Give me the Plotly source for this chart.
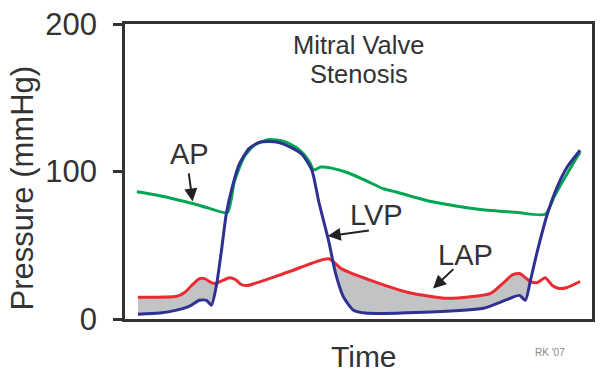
import numpy as np
import plotly.graph_objects as go

# ---- data (time in ms, pressure in mmHg) ----
lvp_t = [32.5, 87.5, 130, 162.5, 187.5, 205, 217.5, 230, 242.5, 255, 270, 287.5, 312.5, 337.5, 362.5,
         387.5, 417.5, 445, 470, 487.5, 512.5, 530, 550, 575, 605, 770, 905, 945, 975, 992.5, 1007.5,
         1020, 1037.5, 1062.5, 1087.5, 1112.5, 1145]
lvp_p = [3.3, 4, 6, 8.7, 12.7, 12.7, 9.4, 22.7, 46, 71.6, 89.6, 105, 115.7, 119.7, 120.4,
         119.7, 116.4, 111.7, 101, 79.6, 52.8, 30.8, 14.7, 6, 4, 4.7, 7.4, 11.4, 14.7, 16, 12.7,
         26, 46, 71, 89.6, 103, 114.4]

ap_t = [30, 87.5, 170, 212.5, 257.5, 275, 300, 325, 362.5, 400, 430, 450, 465, 475, 492.5, 520,
        562.5, 612.5, 650, 680, 770, 895, 987.5, 1057.5, 1080, 1105, 1125, 1145]
ap_p = [86.3, 83.6, 78.3, 75, 72.2, 93, 110, 117.7, 121.7, 120.4, 116.4, 111.7, 106, 101, 103, 102.3,
        99, 93, 88.3, 86.3, 79.6, 74.2, 72.2, 71, 83, 95, 104.3, 113]

lap_t = [32.5, 130, 150, 167.5, 187.5, 200, 217.5, 227.5, 245, 262.5, 277.5, 292.5, 307.5, 412.5,
         512.5, 545, 620, 712.5, 812.5, 920, 950, 975, 992.5, 1007.5, 1020, 1037.5, 1057.5, 1075,
         1092.5, 1112.5, 1145]
lap_p = [14.7, 15.4, 18, 22.7, 27.4, 27.4, 24.7, 24, 26, 28, 26.8, 23.4, 22.7, 32,
         40.8, 34, 26, 18, 14, 17.4, 24, 30, 30.8, 28, 25.4, 24.7, 28, 22.7,
         20.7, 21.4, 25.4]

y_ticks = [0, 100, 200]

GREEN = "#00A651"
BLUE = "#2E3192"
RED = "#EB2A32"
GRAY = "#C2C3C5"
TXT = "#333333"
FONT = "Liberation Sans, Arial, sans-serif"

fig = go.Figure()

# gray fill where LAP > LVP
grid = np.linspace(min(lap_t), max(lap_t), 2000)
red_i = np.interp(grid, lap_t, lap_p)
blue_i = np.interp(grid, lvp_t, lvp_p)
mask = red_i > blue_i
idx = np.flatnonzero(mask)
segments = np.split(idx, np.flatnonzero(np.diff(idx) > 1) + 1)
for seg in segments:
    if len(seg) < 3:
        continue
    xs = grid[seg]
    fig.add_trace(go.Scatter(
        x=np.concatenate([xs, xs[::-1]]),
        y=np.concatenate([red_i[seg], blue_i[seg][::-1]]),
        fill="toself", fillcolor=GRAY, line=dict(width=0), mode="lines",
        hoverinfo="skip", showlegend=False))

fig.add_trace(go.Scatter(x=ap_t, y=ap_p, mode="lines", name="AP",
                         line=dict(color=GREEN, width=3, shape="spline", smoothing=0.6)))
fig.add_trace(go.Scatter(x=lap_t, y=lap_p, mode="lines", name="LAP",
                         line=dict(color=RED, width=3, shape="spline", smoothing=0.6)))
fig.add_trace(go.Scatter(x=lvp_t, y=lvp_p, mode="lines", name="LVP",
                         line=dict(color=BLUE, width=3, shape="spline", smoothing=0.6)))

# pixel helpers for label placement (plot area 125..595 x, 20..319 y)
def tx(px):
    return (px - 125) * 2.5

def py(pyv):
    return (319 - pyv) / 1.495

ann = []
def label(text, px, pyv, size):
    ann.append(dict(x=tx(px), y=py(pyv), xref="x", yref="y", text=text, showarrow=False,
                    font=dict(size=size, color=TXT, family=FONT), xanchor="center", yanchor="middle"))

def arrow(x0, y0, x1, y1):
    ann.append(dict(x=tx(x1), y=py(y1), ax=tx(x0), ay=py(y0), xref="x", yref="y",
                    axref="x", ayref="y", text="", showarrow=True, arrowhead=2,
                    arrowsize=1.3, arrowwidth=2, arrowcolor="#222222"))

label("Mitral Valve", 360, 41, 25.5)
label("Stenosis", 360, 70.5, 25.5)
label("AP", 190, 152, 29)
label("LVP", 378, 214, 29)
label("LAP", 468, 254, 29)
arrow(189, 170, 193, 200)
arrow(372, 229, 329, 235)
arrow(457, 267, 435, 288)

ann.append(dict(x=(366 - 125) / 470, y=(319 - 357) / 299, xref="paper", yref="paper",
                text="Time", showarrow=False, font=dict(size=30, color=TXT, family=FONT),
                xanchor="center", yanchor="middle"))
ann.append(dict(x=(22 - 125) / 470, y=(319 - 186) / 299, xref="paper", yref="paper",
                text="Pressure (mmHg)", textangle=-90, showarrow=False,
                font=dict(size=31, color=TXT, family=FONT), xanchor="center", yanchor="middle"))
ann.append(dict(x=(553 - 125) / 470, y=(319 - 353) / 299, xref="paper", yref="paper",
                text="RK '07", showarrow=False, font=dict(size=10, color="#888888", family=FONT),
                xanchor="center", yanchor="middle"))

fig.update_layout(
    width=602, height=379,
    margin=dict(l=125, r=7, t=20, b=60),
    paper_bgcolor="white", plot_bgcolor="white",
    showlegend=False,
    annotations=ann,
    font=dict(family=FONT, color=TXT),
)
fig.update_xaxes(range=[0, 1175], showgrid=False, zeroline=False, showticklabels=False,
                 ticks="", showline=True, linecolor="#333333", linewidth=2.5, mirror=True)
fig.update_yaxes(range=[0, 200], tickvals=y_ticks, showgrid=False, zeroline=False,
                 ticks="outside", ticklen=9, tickwidth=2.5, tickcolor="#333333",
                 tickfont=dict(size=31, color=TXT, family=FONT), ticklabelstandoff=10,
                 showline=True, linecolor="#333333", linewidth=2.5, mirror=True)

fig.write_html("out.html", config={"displayModeBar": False},
               post_script="document.body.style.margin='0';document.body.style.overflow='hidden';")
